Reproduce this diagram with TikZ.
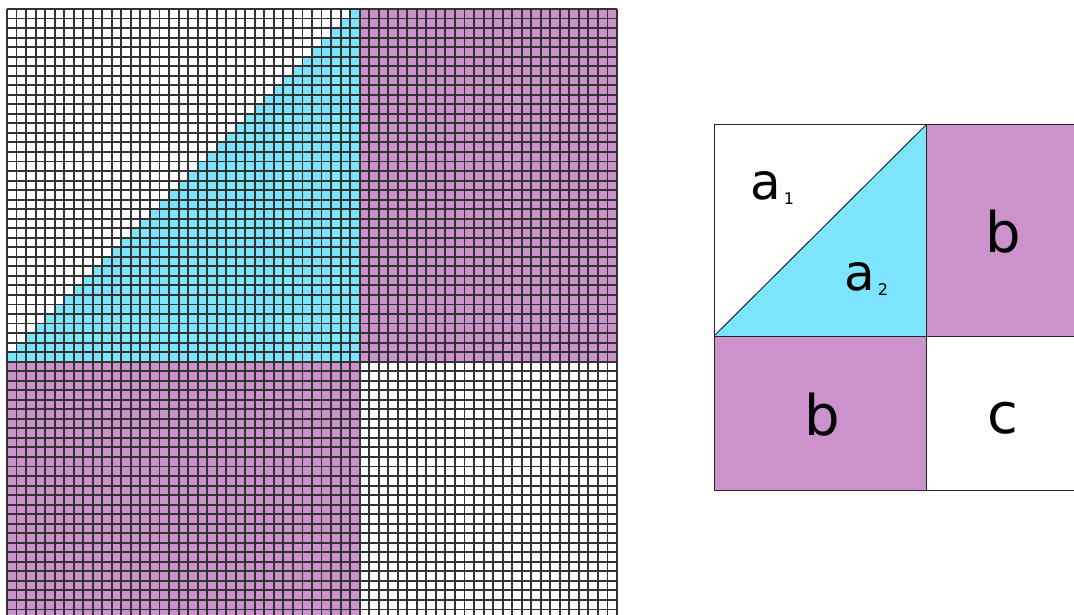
\documentclass[tikz,border=0pt]{standalone}
\usepackage{fontspec}
\setmainfont{DejaVu Sans}
\usetikzlibrary{positioning}
\definecolor{cellcyan}{RGB}{124,228,252}
\definecolor{cellpurple}{RGB}{204,146,204}

\begin{document}
\begin{tikzpicture}[x=1pt, y=-1pt,
  gridline/.style={draw=black!80, line width=1.9pt},
  part/.style={draw=black!85, line width=1pt},
  big/.style={inner sep=0pt, font=\fontsize{56}{56}\selectfont},
  mid/.style={inner sep=0pt, font=\fontsize{50}{50}\selectfont},
  idx/.style={inner sep=0pt, font=\fontsize{16}{16}\selectfont},
]
\useasboundingbox (0,0) rectangle (1074,615);
\clip (0,0) rectangle (1074,615);

% left: 64 x 64 grid, split 37 / 27
\def\cs{9.53125}
\fill[white] (7,9) rectangle (617,619);
\fill[cellpurple] ({7+37*\cs},9) rectangle (617,{9+37*\cs});
\fill[cellpurple] (7,{9+37*\cs}) rectangle ({7+37*\cs},619);
\foreach \r in {0,...,36}
  \fill[cellcyan] ({7+(36-\r)*\cs},{9+\r*\cs}) rectangle ({7+37*\cs},{9+(\r+1)*\cs});
\foreach \i in {0,...,64} {
  \draw[gridline] ({7+\i*\cs},9) -- ++(0,610);
  \draw[gridline] (7,{9+\i*\cs}) -- ++(610,0);
}

% right: the same square in four parts
\coordinate (tl) at (714,125);
\coordinate (tm) at (926,125);
\coordinate (tr) at (1080,125);
\coordinate (ml) at (714,336);
\coordinate (mm) at (926,336);
\coordinate (mr) at (1080,336);
\coordinate (bl) at (714,490);
\coordinate (bm) at (926,490);
\coordinate (br) at (1080,490);
\fill[cellpurple] (tm) rectangle (mr);
\fill[cellpurple] (ml) rectangle (bm);
\fill[cellcyan] (ml) -- (tm) -- (mm) -- cycle;
\draw[part] (tl) rectangle (br);
\draw[part] (tm) -- (bm);
\draw[part] (ml) -- (mr);
\draw[part] (ml) -- (tm);

\node[mid] (a1) at (766,186) {a};
\node[idx] (a1i) at (789,199) {1};
\node[mid] (a2) at (860,277) {a};
\node[idx] (a2i) at (883,290) {2};
\node[big] (b1) at (1003,232) {b};
\node[big] (b2) at (822,415) {b};
\node[big] (c) at (1003,418) {c};
\end{tikzpicture}
\end{document}
